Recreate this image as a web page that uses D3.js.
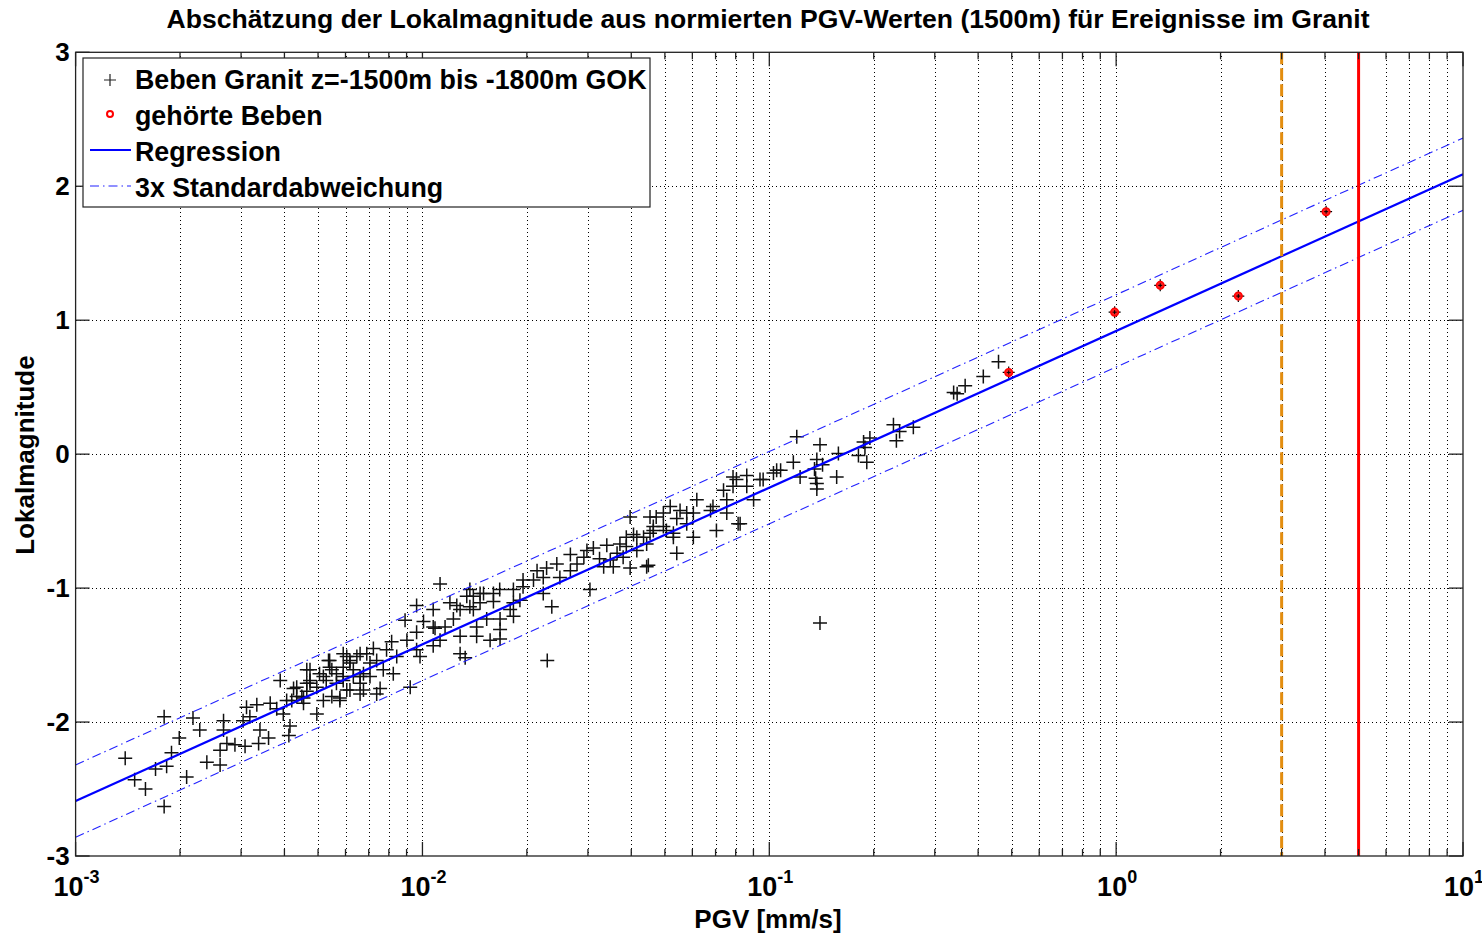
<!DOCTYPE html>
<html>
<head>
<meta charset="utf-8">
<script src="https://cdn.jsdelivr.net/npm/d3@7"></script>
<style>
  body { margin: 0; background: #fff; }
  svg text { font-family: "Liberation Sans", Arial, sans-serif; font-weight: bold; fill: #000; }
</style>
</head>
<body>
<svg width="1482" height="933"></svg>
<script>
// Beben Granit: [PGV mm/s, Lokalmagnitude]
const beben = [
  [0.00180,-1.96],[0.00139,-2.27],[0.00148,-2.43],[0.00159,-2.50],[0.00180,-2.63],[0.00170,-2.35],
  [0.00183,-2.33],[0.00189,-2.23],[0.00199,-2.12],[0.00209,-2.41],[0.00218,-1.97],[0.00228,-2.06],
  [0.00239,-2.30],[0.00261,-2.32],[0.00261,-2.21],[0.00267,-1.99],[0.00273,-2.16],[0.00288,-2.17],
  [0.00308,-2.18],[0.00267,-2.06],[0.00304,-1.99],[0.00311,-1.89],[0.00333,-1.87],[0.00340,-2.06],
  [0.00337,-2.16],[0.00360,-2.12],[0.00364,-1.86],[0.00389,-1.69],[0.00397,-1.94],[0.00415,-2.03],
  [0.00412,-2.10],[0.00420,-1.84],[0.00434,-1.74],[0.00454,-1.86],[0.00474,-1.61],[0.00496,-1.94],
  [0.00496,-1.74],[0.00518,-1.66],[0.00536,-1.54],[0.00548,-1.81],[0.00578,-1.82],[0.00591,-1.49],
  [0.00605,-1.76],[0.00618,-1.56],[0.00647,-1.51],[0.00676,-1.64],[0.00676,-1.76],[0.00691,-1.49],
  [0.00464,-1.71],[0.00565,-1.64],[0.00632,-1.66],[0.00380,-1.90],[0.00318,-1.96],
  [0.00474,-1.69],[0.00540,-1.59],[0.00591,-1.69],[0.00661,-1.71],[0.00449,-1.81],
  [0.01124,-0.97],[0.00962,-1.13],[0.01074,-1.16],[0.00891,-1.24],[0.01007,-1.25],[0.00962,-1.33],
  [0.01087,-1.30],[0.01256,-1.13],[0.01342,-1.06],[0.01466,-1.04],[0.01602,-1.04],[0.01402,-1.16],
  [0.01532,-1.23],[0.01674,-1.23],[0.01829,-1.01],[0.01228,-1.23],[0.01433,-1.29],[0.01284,-1.49],
  [0.01328,-1.52],[0.01567,-1.39],[0.01674,-1.38],[0.01124,-1.39],[0.01074,-1.43],[0.00962,-1.46],
  [0.00902,-1.39],[0.00815,-1.40],[0.00788,-1.46],[0.00843,-1.51],[0.00722,-1.45],[0.00738,-1.54],
  [0.00706,-1.56],[0.00661,-1.49],[0.00618,-1.54],[0.00605,-1.51],[0.00591,-1.59],[0.00632,-1.61],
  [0.00661,-1.66],[0.00755,-1.75],[0.00824,-1.64],[0.00771,-1.61],[0.00922,-1.74],[0.00540,-1.54],
  [0.00548,-1.61],[0.00528,-1.69],[0.00565,-1.71],[0.00505,-1.64],[0.00464,-1.61],[0.00474,-1.71],
  [0.00464,-1.77],[0.00425,-1.75],[0.00434,-1.81],[0.00406,-1.84],[0.00578,-1.84],[0.00661,-1.79],
  [0.00738,-1.79],[0.01284,-1.36],[0.01162,-1.29],[0.01674,-1.31],[0.01466,-1.11],[0.01602,-1.10],
  [0.01829,-1.11],[0.01402,-1.06],[0.01433,-1.36],[0.01074,-1.29],[0.00984,-1.51],[0.00591,-1.66],
  [0.00618,-1.76],[0.00518,-1.84],[0.00454,-1.82],[0.00706,-1.66],
  [0.0304,-1.01],[0.0311,-0.70],[0.0340,-0.68],[0.0298,-0.72],[0.0348,-0.79],[0.0333,-0.84],
  [0.0355,-0.84],[0.0379,-0.77],[0.0397,-0.85],[0.0406,-0.60],[0.0434,-0.62],[0.0453,-0.59],
  [0.0397,-0.47],[0.0453,-0.47],[0.0495,-0.44],[0.0541,-0.48],[0.0578,-0.44],[0.0529,-0.62],
  [0.0541,-0.74],[0.0448,-0.83],[0.0267,-0.75],[0.0279,-0.82],[0.0244,-0.82],[0.0228,-0.85],
  [0.0223,-0.92],[0.0209,-0.94],[0.0249,-0.92],[0.0267,-0.87],[0.0236,-1.14],[0.0223,-1.04],
  [0.0195,-0.99],[0.0191,-1.09],[0.0137,-1.14],[0.0179,-1.16],[0.0183,-1.21],
  [0.0137,-1.01],[0.0150,-1.04],[0.0167,-1.01],[0.0120,-1.11],[0.01284,-1.16],[0.0195,-0.94],
  [0.0214,-0.87],[0.0292,-0.77],[0.0324,-0.78],[0.0364,-0.74],[0.0371,-0.67],[0.0415,-0.72],
  [0.0495,-0.54],[0.0518,-0.39],
  [0.1173,-0.06],[0.1371,-0.22],[0.1350,-0.11],[0.1424,-0.08],[0.1028,-0.14],[0.0960,-0.19],
  [0.0861,-0.16],[0.0804,-0.19],[0.0786,-0.24],[0.0824,-0.52],[0.0901,-0.34],[0.0754,-0.34],
  [0.0688,-0.39],[0.0704,-0.57],[0.0618,-0.34],[0.0604,-0.44],[0.0553,-0.42],[0.0472,-0.47],
  [0.0505,-0.57],[0.0463,-0.57],[0.0415,-0.62],[0.0443,-0.67],[0.0443,-0.84],[0.0387,-0.69],
  [0.0861,-0.24],[0.1078,-0.12],
  [0.1200,0.13],[0.1400,0.07],[0.1371,-0.04],[0.1564,-0.17],[0.1360,-0.18],[0.1371,-0.26],
  [0.1582,0.005],[0.1807,-0.01],[0.1910,-0.06],[0.1887,0.05],[0.1950,0.12],[0.2280,0.22],
  [0.2325,0.10],[0.2375,0.17],[0.2602,0.20],[0.1227,-0.17],[0.1050,-0.12],[0.0940,-0.19],
  [0.0786,-0.17],[0.0738,-0.27],[0.0754,-0.44],[0.0813,-0.52],[0.0677,-0.42],[0.0463,-0.54],
  [0.0387,-0.62],[0.0604,-0.62],[0.0529,-0.59],[0.0578,-0.52],
  [0.458,0.69],[0.414,0.58],[0.367,0.51],[0.340,0.46],[0.348,0.45],[0.187,0.09],
  [0.140,-1.26],[0.0229,-1.54]
];

// gehörte Beben
const gehoert = [[0.49,0.61],[0.99,1.06],[1.34,1.26],[2.25,1.18],[4.03,1.81]];

// Regression M = a*log10(PGV) + b, 3x Standardabweichung
const regA = 1.17, regB = 0.92, sigma3 = 0.27;
const regPGV = [1e-3, 10];

// vertical reference lines
const pgvOrange = 3, pgvRed = 5;

const yTicks = [-3, -2, -1, 0, 1, 2, 3];
const xDecades = [-3, -2, -1, 0, 1];
const legendLabels = ["Beben Granit z=-1500m bis -1800m GOK", "gehörte Beben", "Regression", "3x Standardabweichung"];
const title = "Abschätzung der Lokalmagnitude aus normierten PGV-Werten (1500m) für Ereignisse im Granit";

const svg = d3.select("svg");
const L = 75.6, R = 1463, T = 52.3, B = 856;

const x = d3.scaleLog().domain([1e-3, 10]).range([L, R]);
const y = d3.scaleLinear().domain([-3, 3]).range([B, T]);

// minor + major x positions
const xAll = [];
xDecades.forEach((d) => {
  for (let k = 1; k <= 9; k++) {
    const v = k * Math.pow(10, d);
    if (v <= 10) xAll.push({ v: v, major: k === 1 });
  }
});

svg.append("defs").append("clipPath").attr("id", "clip")
  .append("rect").attr("x", L).attr("y", T).attr("width", R - L).attr("height", B - T);

// grid (dotted)
const grid = svg.append("g").attr("stroke", "#000").attr("stroke-width", 1)
  .attr("stroke-dasharray", "1,3").attr("shape-rendering", "crispEdges");
grid.selectAll("line.gx").data(xAll.filter((d) => d.v > 1e-3 && d.v < 10)).enter().append("line")
  .attr("x1", (d) => Math.round(x(d.v)) + 0.5).attr("x2", (d) => Math.round(x(d.v)) + 0.5)
  .attr("y1", T).attr("y2", B);
grid.selectAll("line.gy").data(yTicks.filter((d) => d > -3 && d < 3)).enter().append("line")
  .attr("x1", L).attr("x2", R).attr("y1", (d) => Math.round(y(d)) + 0.5).attr("y2", (d) => Math.round(y(d)) + 0.5);

const plot = svg.append("g").attr("clip-path", "url(#clip)");

// crosses
const cross = "M-7,0H7M0,-7V7";
plot.selectAll("path.beben").data(beben).enter().append("path")
  .attr("class", "beben")
  .attr("d", cross)
  .attr("transform", (d) => `translate(${x(d[0])},${y(d[1])})`)
  .attr("stroke", "#111").attr("stroke-width", 1.5).attr("fill", "none");

// heard events
const g2 = plot.selectAll("g.heard").data(gehoert).enter().append("g")
  .attr("transform", (d) => `translate(${x(d[0])},${y(d[1])})`);
g2.append("path").attr("d", "M-6,0H6M0,-6V6").attr("stroke", "#000").attr("stroke-width", 1.2);
g2.append("circle").attr("r", 3.8).attr("fill", "#ff2020").attr("stroke", "#ff0000").attr("stroke-width", 1.5);
g2.append("path").attr("d", "M-2,0H2M0,-2V2").attr("stroke", "#000").attr("stroke-width", 1);

// regression + std lines
const line = d3.line().x((d) => x(d[0])).y((d) => y(d[1]));
const reg = (off) => regPGV.map((p) => [p, regA * Math.log10(p) + regB + off]);
plot.append("path").attr("d", line(reg(0))).attr("stroke", "#0000ff").attr("stroke-width", 2.2).attr("fill", "none");
[sigma3, -sigma3].forEach((o) => {
  plot.append("path").attr("d", line(reg(o))).attr("stroke", "#2222ff").attr("stroke-width", 1.1)
    .attr("stroke-dasharray", "9,4,1.5,4").attr("fill", "none");
});

// vertical lines
plot.append("line").attr("x1", x(pgvOrange)).attr("x2", x(pgvOrange)).attr("y1", T).attr("y2", B)
  .attr("stroke", "#e38d0f").attr("stroke-width", 3).attr("stroke-dasharray", "12,4");
plot.append("line").attr("x1", x(pgvRed)).attr("x2", x(pgvRed)).attr("y1", T).attr("y2", B)
  .attr("stroke", "#ff0000").attr("stroke-width", 3);

// axes box and ticks
const ax = svg.append("g").attr("stroke", "#222").attr("stroke-width", 1.3);
ax.append("rect").attr("x", L).attr("y", T).attr("width", R - L).attr("height", B - T).attr("fill", "none");
xAll.forEach((d) => {
  const len = d.major ? 14 : 7;
  ax.append("line").attr("x1", x(d.v)).attr("x2", x(d.v)).attr("y1", B).attr("y2", B - len);
  ax.append("line").attr("x1", x(d.v)).attr("x2", x(d.v)).attr("y1", T).attr("y2", T + len);
});
yTicks.forEach((t) => {
  ax.append("line").attr("x1", L).attr("x2", L + 14).attr("y1", y(t)).attr("y2", y(t));
  ax.append("line").attr("x1", R).attr("x2", R - 14).attr("y1", y(t)).attr("y2", y(t));
});

// tick labels
svg.selectAll("text.yt").data(yTicks).enter().append("text")
  .attr("x", L - 6).attr("y", (d) => y(d) + 9)
  .attr("text-anchor", "end").attr("font-size", 26).text((d) => d);

xDecades.forEach((d) => {
  const t = svg.append("text").attr("x", x(Math.pow(10, d)) + 1).attr("y", 896)
    .attr("text-anchor", "middle").attr("font-size", 27);
  t.append("tspan").text("10");
  t.append("tspan").attr("font-size", 18).attr("dy", -13).text(d);
});

// axis titles
svg.append("text").attr("x", 768).attr("y", 928).attr("text-anchor", "middle").attr("font-size", 26).text("PGV [mm/s]");
svg.append("text").attr("transform", "translate(34,455) rotate(-90)").attr("text-anchor", "middle")
  .attr("font-size", 26).text("Lokalmagnitude");
svg.append("text").attr("x", 768).attr("y", 28).attr("text-anchor", "middle").attr("font-size", 25)
  .attr("textLength", 1203).attr("lengthAdjust", "spacingAndGlyphs").text(title);

// legend
const lg = svg.append("g");
lg.append("rect").attr("x", 83).attr("y", 58).attr("width", 567).attr("height", 149)
  .attr("fill", "#fff").attr("stroke", "#222").attr("stroke-width", 1.2);
const rowY = [80, 116, 152, 188];
legendLabels.forEach((s, i) => {
  lg.append("text").attr("x", 135).attr("y", rowY[i] + 9).attr("font-size", 26.8).text(s);
});
lg.append("path").attr("d", "M-6,0H6M0,-6V6").attr("transform", `translate(110,${rowY[0]})`)
  .attr("stroke", "#222").attr("stroke-width", 1.2);
lg.append("circle").attr("cx", 110).attr("cy", rowY[1] - 2).attr("r", 3).attr("fill", "none")
  .attr("stroke", "#ff0000").attr("stroke-width", 2);
lg.append("line").attr("x1", 90).attr("x2", 131).attr("y1", rowY[2] - 2).attr("y2", rowY[2] - 2)
  .attr("stroke", "#0000ff").attr("stroke-width", 2);
lg.append("line").attr("x1", 90).attr("x2", 131).attr("y1", rowY[3] - 2).attr("y2", rowY[3] - 2)
  .attr("stroke", "#2222ff").attr("stroke-width", 1.1).attr("stroke-dasharray", "9,4,1.5,4");
</script>
</body>
</html>
